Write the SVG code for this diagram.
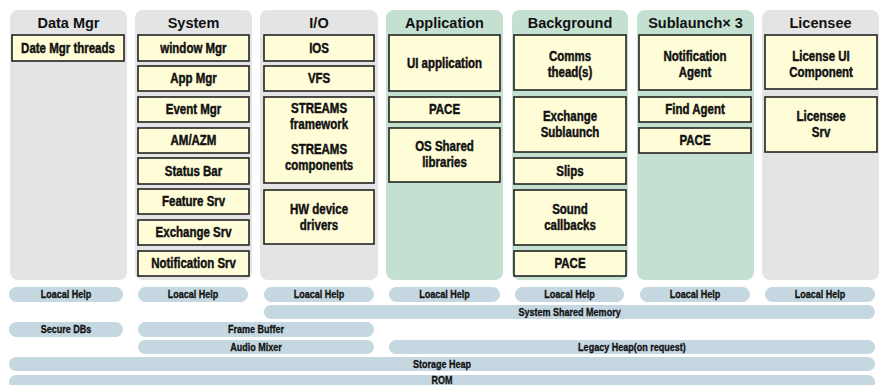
<svg xmlns="http://www.w3.org/2000/svg" width="880" height="385" viewBox="0 0 880 385">
<style>
.pg{fill:#e4e4e4}
.pe{fill:#c3e0d1}
.hd{font-family:"Liberation Sans",Arial,sans-serif;font-weight:700;font-size:14.5px;fill:#111;text-anchor:middle}
.bx{fill:#fffcd8;stroke:#222;stroke-width:1.6}
.bt{font-family:"Liberation Sans",Arial,sans-serif;font-weight:700;font-size:14px;fill:#111;stroke:#111;stroke-width:0.45;text-anchor:middle;transform-box:fill-box;transform-origin:center;transform:scaleX(0.82)}
.bar{fill:#c5d7e1}
.lt{font-family:"Liberation Sans",Arial,sans-serif;font-weight:700;font-size:10.5px;fill:#111;stroke:#111;stroke-width:0.3;text-anchor:middle;transform-box:fill-box;transform-origin:center;transform:scaleX(0.86)}
</style>
<rect width="880" height="385" fill="#ffffff"/>

<g id="col-datamgr">
<rect class="pg" x="10" y="10" width="117" height="270" rx="8"/>
<text class="hd" x="68.5" y="28">Data Mgr</text>
<g id="date-mgr-threads"><rect class="bx" x="12" y="35" width="112" height="26"/><text class="bt" x="68" y="53">Date Mgr threads</text></g>
</g>

<g id="col-system">
<rect class="pg" x="135" y="10" width="117" height="270" rx="8"/>
<text class="hd" x="193.5" y="28">System</text>
<g id="window-mgr"><rect class="bx" x="138" y="35" width="111" height="26"/><text class="bt" x="193.5" y="53">window Mgr</text></g>
<g id="app-mgr"><rect class="bx" x="138" y="66" width="111" height="25"/><text class="bt" x="193.5" y="83.5">App Mgr</text></g>
<g id="event-mgr"><rect class="bx" x="138" y="97" width="111" height="25"/><text class="bt" x="193.5" y="114.5">Event Mgr</text></g>
<g id="am-azm"><rect class="bx" x="138" y="128" width="111" height="25"/><text class="bt" x="193.5" y="145.5">AM/AZM</text></g>
<g id="status-bar"><rect class="bx" x="138" y="158" width="111" height="26"/><text class="bt" x="193.5" y="176">Status Bar</text></g>
<g id="feature-srv"><rect class="bx" x="138" y="189" width="111" height="25"/><text class="bt" x="193.5" y="206.5">Feature Srv</text></g>
<g id="exchange-srv"><rect class="bx" x="138" y="220" width="111" height="25"/><text class="bt" x="193.5" y="237.5">Exchange Srv</text></g>
<g id="notification-srv"><rect class="bx" x="138" y="251" width="111" height="25"/><text class="bt" x="193.5" y="268.5">Notification Srv</text></g>
</g>

<g id="col-io">
<rect class="pg" x="260" y="10" width="118" height="270" rx="8"/>
<text class="hd" x="319" y="28">I/O</text>
<g id="ios"><rect class="bx" x="264" y="35" width="110" height="26"/><text class="bt" x="319" y="53">IOS</text></g>
<g id="vfs"><rect class="bx" x="264" y="66" width="110" height="25"/><text class="bt" x="319" y="83.5">VFS</text></g>
<g id="streams"><rect class="bx" x="264" y="97" width="110" height="86"/><text class="bt" x="319" y="113">STREAMS</text><text class="bt" x="319" y="129">framework</text><text class="bt" x="319" y="154">STREAMS</text><text class="bt" x="319" y="170">components</text></g>
<g id="hw-drivers"><rect class="bx" x="264" y="190" width="110" height="54"/><text class="bt" x="319" y="214">HW device</text><text class="bt" x="319" y="230">drivers</text></g>
</g>

<g id="col-application">
<rect class="pe" x="386" y="10" width="117" height="270" rx="8"/>
<text class="hd" x="444.5" y="28">Application</text>
<g id="ui-application"><rect class="bx" x="389" y="35" width="111" height="56"/><text class="bt" x="444.5" y="68">UI application</text></g>
<g id="app-pace"><rect class="bx" x="389" y="97" width="111" height="25"/><text class="bt" x="444.5" y="114.5">PACE</text></g>
<g id="os-shared"><rect class="bx" x="389" y="128" width="111" height="54"/><text class="bt" x="444.5" y="151">OS Shared</text><text class="bt" x="444.5" y="167">libraries</text></g>
</g>

<g id="col-background">
<rect class="pe" x="512" y="10" width="116" height="270" rx="8"/>
<text class="hd" x="570" y="28">Background</text>
<g id="comms"><rect class="bx" x="514" y="35" width="112" height="55"/><text class="bt" x="570" y="61">Comms</text><text class="bt" x="570" y="77">thead(s)</text></g>
<g id="exchange-sublaunch"><rect class="bx" x="514" y="97" width="112" height="55"/><text class="bt" x="570" y="121">Exchange</text><text class="bt" x="570" y="137">Sublaunch</text></g>
<g id="slips"><rect class="bx" x="514" y="158" width="112" height="26"/><text class="bt" x="570" y="176">Slips</text></g>
<g id="sound-callbacks"><rect class="bx" x="514" y="190" width="112" height="55"/><text class="bt" x="570" y="214">Sound</text><text class="bt" x="570" y="230">callbacks</text></g>
<g id="bg-pace"><rect class="bx" x="514" y="251" width="112" height="25"/><text class="bt" x="570" y="268.5">PACE</text></g>
</g>

<g id="col-sublaunch">
<rect class="pe" x="637" y="10" width="117" height="270" rx="8"/>
<text class="hd" x="695.5" y="28">Sublaunch× 3</text>
<g id="notification-agent"><rect class="bx" x="639" y="35" width="112" height="55"/><text class="bt" x="695" y="61">Notification</text><text class="bt" x="695" y="77">Agent</text></g>
<g id="find-agent"><rect class="bx" x="639" y="97" width="112" height="25"/><text class="bt" x="695" y="114.5">Find Agent</text></g>
<g id="sub-pace"><rect class="bx" x="639" y="128" width="112" height="25"/><text class="bt" x="695" y="145.5">PACE</text></g>
</g>

<g id="col-licensee">
<rect class="pg" x="762" y="10" width="117" height="270" rx="8"/>
<text class="hd" x="820.5" y="28">Licensee</text>
<g id="license-ui"><rect class="bx" x="765" y="35" width="112" height="54"/><text class="bt" x="821" y="61">License UI</text><text class="bt" x="821" y="77">Component</text></g>
<g id="licensee-srv"><rect class="bx" x="765" y="97" width="112" height="55"/><text class="bt" x="821" y="121">Licensee</text><text class="bt" x="821" y="137">Srv</text></g>
</g>

<g id="bars">
<g id="lh1"><rect class="bar" x="9" y="287" width="114" height="15" rx="7.5"/><text class="lt" x="66" y="298.5">Loacal Help</text></g>
<g id="lh2"><rect class="bar" x="138" y="287" width="110" height="15" rx="7.5"/><text class="lt" x="193" y="298.5">Loacal Help</text></g>
<g id="lh3"><rect class="bar" x="264" y="287" width="110" height="15" rx="7.5"/><text class="lt" x="319" y="298.5">Loacal Help</text></g>
<g id="lh4"><rect class="bar" x="389" y="287" width="111" height="15" rx="7.5"/><text class="lt" x="444.5" y="298.5">Loacal Help</text></g>
<g id="lh5"><rect class="bar" x="515" y="287" width="109" height="15" rx="7.5"/><text class="lt" x="569.5" y="298.5">Loacal Help</text></g>
<g id="lh6"><rect class="bar" x="640" y="287" width="110" height="15" rx="7.5"/><text class="lt" x="695" y="298.5">Loacal Help</text></g>
<g id="lh7"><rect class="bar" x="765" y="287" width="110" height="15" rx="7.5"/><text class="lt" x="820" y="298.5">Loacal Help</text></g>
<g id="shared-mem"><rect class="bar" x="264" y="305" width="611" height="14" rx="7"/><text class="lt" x="569.5" y="316">System Shared Memory</text></g>
<g id="secure-dbs"><rect class="bar" x="9" y="322" width="114" height="15" rx="7.5"/><text class="lt" x="66" y="333.5">Secure DBs</text></g>
<g id="frame-buffer"><rect class="bar" x="138" y="322" width="236" height="15" rx="7.5"/><text class="lt" x="256" y="333.5">Frame Buffer</text></g>
<g id="audio-mixer"><rect class="bar" x="138" y="340" width="236" height="14" rx="7"/><text class="lt" x="256" y="351">Audio Mixer</text></g>
<g id="legacy-heap"><rect class="bar" x="389" y="340" width="486" height="14" rx="7"/><text class="lt" x="632" y="351">Legacy Heap(on request)</text></g>
<g id="storage-heap"><rect class="bar" x="9" y="357" width="866" height="14" rx="7"/><text class="lt" x="442" y="368">Storage Heap</text></g>
<g id="rom"><rect class="bar" x="9" y="375" width="866" height="14" rx="7"/><text class="lt" x="442" y="384">ROM</text></g>
</g>
</svg>
